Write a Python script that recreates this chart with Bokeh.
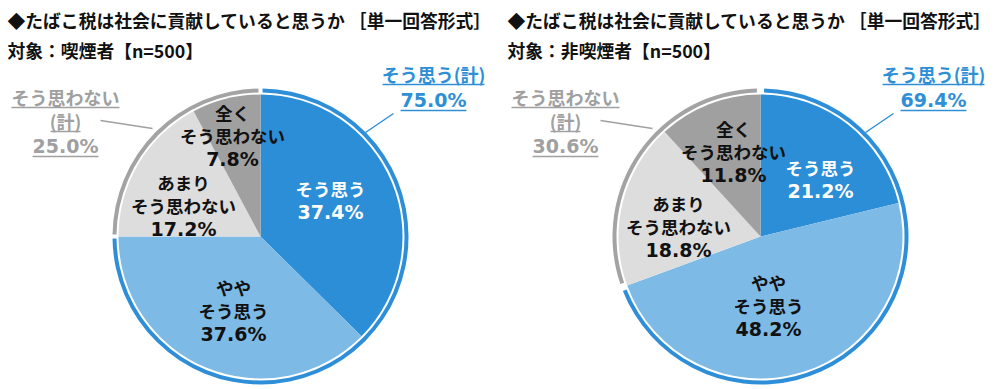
import math
from bokeh.plotting import figure
from bokeh.models import Range1d, ColumnDataSource
from bokeh.core.properties import value
from bokeh.embed import file_html
from bokeh.resources import INLINE

# ---------------- data ----------------
categories = ["そう思う", "ややそう思う", "あまりそう思わない", "全くそう思わない"]
category_lines = [["そう思う"], ["やや", "そう思う"], ["あまり", "そう思わない"], ["全く", "そう思わない"]]
smoker_values = [37.4, 37.6, 17.2, 7.8]
nonsmoker_values = [21.2, 48.2, 18.8, 11.8]
smoker_totals = [75.0, 25.0]      # そう思う(計), そう思わない(計)
nonsmoker_totals = [69.4, 30.6]
title_text = "◆たばこ税は社会に貢献していると思うか ［単一回答形式］"
subtitles = ["対象：喫煙者【n=500】", "対象：非喫煙者【n=500】"]
agree_total_label = "そう思う(計)"
disagree_total_label = ["そう思わない", "(計)"]

# ---------------- style ----------------
W, H = 1000, 389
JP = "Noto Sans CJK JP"
NUM = "DejaVu Sans"
slice_colors = ["#2B8ED6", "#7DBAE6", "#DDDDDD", "#A0A0A0"]
text_colors = ["white", "#111111", "#111111", "#111111"]
ring_colors = ["#2E8FD8", "#A3A3A3"]
agree_col = "#2E8FD6"
disagree_col = "#A0A0A0"

def Y(y):
    return 389 - y

p = figure(width=W, height=H, output_backend="svg", toolbar_location=None,
           x_range=Range1d(0, W), y_range=Range1d(389 - H, 389),
           x_axis_location=None, y_axis_location=None, min_border=0)
p.grid.visible = False
p.outline_line_color = None
p.background_fill_color = "white"
p.border_fill_color = "white"

def width_est(s, size, num=False):
    w = 0
    for ch in s:
        if num:
            w += {".": 0.38, "%": 1.0}.get(ch, 0.696)
        else:
            w += 1.0 if ord(ch) > 0x2000 else 0.33
    return w * size

def put(x, y, s, color, size=17.5, font=JP, underline=False, num=False, align="center"):
    p.text(x=[x], y=[Y(y)], text=[s], text_color=color, text_font=value(font),
           text_font_size=value(f"{size}px"), text_font_style="bold",
           text_align=align, text_baseline="middle")
    if underline:
        w = width_est(s, size, num)
        p.segment(x0=[x - w / 2], y0=[Y(y + 11)], x1=[x + w / 2], y1=[Y(y + 11)],
                  line_color=color, line_width=1.5)

# label offsets (layout) per chart: (dx, dy of first line) for each slice
label_offsets = [
    [(70, -48), (-27, 51), (-77, -54), (-28, -124)],
    [(60, -69), (8, 46), (-82, -33), (-27, -108)],
]
ring_gap_deg = [0.8, 1.4]

charts = [(smoker_values, smoker_totals), (nonsmoker_values, nonsmoker_totals)]
for k, (vals, totals) in enumerate(charts):
    ox = 500 * k
    cx, cy = 260 + ox, 236
    total = sum(vals)
    # slices (clockwise from 12 o'clock)
    cum = 0.0
    starts, ends = [], []
    for v in vals:
        a0 = math.pi / 2 - 2 * math.pi * cum / total
        cum += v
        a1 = math.pi / 2 - 2 * math.pi * cum / total
        starts.append(a1)
        ends.append(a0)
    src = ColumnDataSource(dict(start=starts, end=ends, color=slice_colors))
    p.wedge(x=cx, y=Y(cy), radius=142, start_angle="start", end_angle="end",
            fill_color="color", line_color=None, source=src)
    # outer ring: agree total / disagree total
    g = math.radians(ring_gap_deg[k])
    tsum = sum(totals)
    b = math.pi / 2 - 2 * math.pi * totals[0] / tsum
    ring_src = ColumnDataSource(dict(
        start=[b + g, math.pi / 2 + g],
        end=[math.pi / 2 - g, b + 2 * math.pi - g],
        color=ring_colors))
    p.annular_wedge(x=cx, y=Y(cy), inner_radius=144, outer_radius=148,
                    start_angle="start", end_angle="end", fill_color="color",
                    line_color=None, source=ring_src)
    # inner labels
    for i, v in enumerate(vals):
        dx, dy = label_offsets[k][i]
        lines = category_lines[i]
        yy = cy + dy
        for ln in lines:
            put(cx + dx, yy, ln, text_colors[i], size=17.5)
            yy += 23
        put(cx + dx, yy, f"{v:.1f}%", text_colors[i], size=19, font=NUM, num=True)
    # title
    put(7 + ox, 19, title_text, "#111111", size=17.8, align="left")
    put(7 + ox, 49, subtitles[k], "#111111", size=17.8, align="left")
    # agree total label
    put(433 + ox, 73, agree_total_label, agree_col, size=18, underline=True)
    put(433 + ox, 99, f"{totals[0]:.1f}%", agree_col, size=19, font=NUM, underline=True, num=True)
    p.line(x=[393 + ox, 365 + ox], y=[Y(113), Y(132)], line_color=agree_col, line_width=1.5)
    # disagree total label
    put(65 + ox, 96, disagree_total_label[0], disagree_col, size=18, underline=True)
    put(65 + ox, 120, disagree_total_label[1], disagree_col, size=18, underline=True)
    put(65 + ox, 145, f"{totals[1]:.1f}%", disagree_col, size=19, font=NUM, underline=True, num=True)
    p.line(x=[100 + ox, 152 + ox], y=[Y(120), Y(128)], line_color=disagree_col, line_width=1.5)

open("out.html", "w").write(file_html(p, INLINE))
